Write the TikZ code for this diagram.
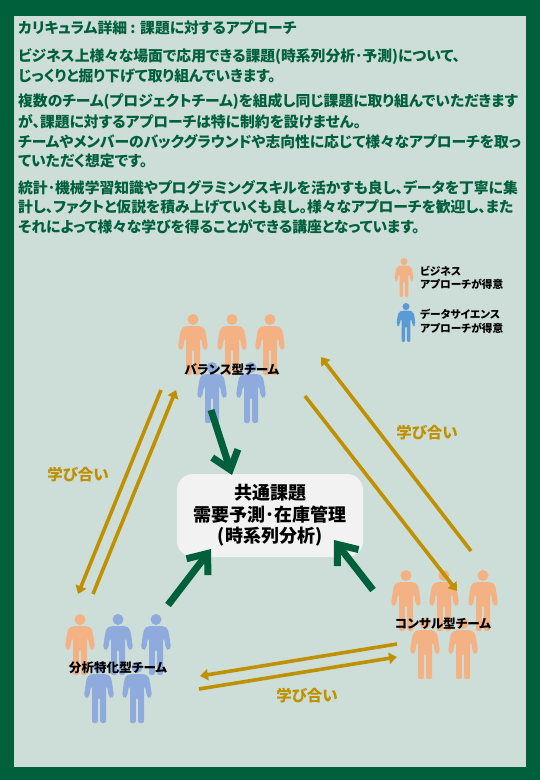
\documentclass[tikz,border=0pt]{standalone}
\usepackage{fontspec}
\setmainfont[RawFeature=+palt]{Noto Sans CJK JP}
\usetikzlibrary{arrows.meta}
\definecolor{frameG}{HTML}{00603C}
\definecolor{paleG}{HTML}{CDDED8}
\definecolor{gold}{HTML}{BF9000}
\definecolor{orangeP}{HTML}{F4B183}
\definecolor{blueP}{HTML}{8FAADC}
\definecolor{blueL}{HTML}{5B9BD5}
\definecolor{boxG}{HTML}{F2F2F2}
\newcommand{\personfig}[4]{%
 \begin{scope}[shift={(#1,#2)},scale=#3]
  \fill[#4] (0,5.5) circle (5.5);
  \fill[#4,rounded corners=2pt] (-7,12) -- (7,12) -- (11.5,14) -- (13,20) -- (15,34) -- (12.5,36.5) -- (10,35) -- (8,24) -- (7,24) -- (7,61) -- (1.2,61) -- (1.2,36) -- (-1.2,36) -- (-1.2,61) -- (-7,61) -- (-7,24) -- (-8,24) -- (-10,35) -- (-12.5,36.5) -- (-15,34) -- (-13,20) -- (-11.5,14) -- cycle;
 \end{scope}}
\tikzset{
 bodyline/.style={anchor=west,inner sep=0,font=\bfseries\fontsize{14.8}{14.8}\selectfont,text=frameG},
 teamlabel/.style={inner sep=0,font=\bfseries\fontsize{12.6}{12.6}\selectfont,text=black},
 legendlabel/.style={anchor=west,inner sep=0,font=\bfseries\fontsize{10.7}{10.7}\selectfont,text=black},
 learnlabel/.style={inner sep=0,font=\bfseries\fontsize{15.5}{15.5}\selectfont,text=gold},
 goldarrow/.style={draw=gold,line width=3.6pt,-{Triangle[length=8pt,width=11pt]}},
 greenarrow/.style={draw=frameG,line width=7pt,-{Straight Barb[length=17pt,width=27pt]}},
 commonbox/.style={fill=boxG,rounded corners=16pt,minimum width=186pt,minimum height=83pt,inner sep=0,align=center,text=black,font=\bfseries\fontsize{18}{21.5}\selectfont},
}
\begin{document}
\begin{tikzpicture}[x=1pt,y=-1pt]
\useasboundingbox (0,0) rectangle (540,780);
\fill[frameG] (0,0) rectangle (540,780);
\fill[paleG] (14,16) rectangle (526,767);
% text block
\node[bodyline] (t1) at (18,28) {カリキュラム詳細 : 課題に対するアプローチ};
\node[bodyline] (t2) at (18,57) {ビジネス上様々な場面で応用できる課題(時系列分析･予測)について、};
\node[bodyline] (t3) at (18,76) {じっくりと掘り下げて取り組んでいきます。};
\node[bodyline] (t4) at (18,102) {複数のチーム(プロジェクトチーム)を組成し同じ課題に取り組んでいただきます};
\node[bodyline] (t5) at (18,122) {が、課題に対するアプローチは特に制約を設けません。};
\node[bodyline] (t6) at (18,142) {チームやメンバーのバックグラウンドや志向性に応じて様々なアプローチを取っ};
\node[bodyline] (t7) at (18,161) {ていただく想定です。};
\node[bodyline] (t8) at (18,188) {統計･機械学習知識やプログラミングスキルを活かすも良し、データを丁寧に集};
\node[bodyline] (t9) at (18,207) {計し、ファクトと仮説を積み上げていくも良し。様々なアプローチを歓迎し、また};
\node[bodyline] (t10) at (18,227) {それによって様々な学びを得ることができる講座となっています。};
% people
\personfig{193}{314}{1}{orangeP}\personfig{232}{314}{1}{orangeP}\personfig{270}{314}{1}{orangeP}
\personfig{212}{362}{1}{blueP}\personfig{251}{362}{1}{blueP}
\personfig{80}{614}{1}{orangeP}\personfig{118}{614}{1}{blueP}\personfig{156}{614}{1}{blueP}
\personfig{99}{662}{1}{blueP}\personfig{137}{662}{1}{blueP}
\personfig{406}{570}{1}{orangeP}\personfig{444}{570}{1}{orangeP}\personfig{483}{570}{1}{orangeP}
\personfig{425}{618}{1}{orangeP}\personfig{463}{618}{1}{orangeP}
\personfig{404}{258}{0.64}{orangeP}
\personfig{406}{303}{0.64}{blueL}
% labels
\node[legendlabel] (l1) at (420,271) {ビジネス};
\node[legendlabel] (l2) at (420,284.5) {アプローチが得意};
\node[legendlabel] (l3) at (420,314) {データサイエンス};
\node[legendlabel] (l4) at (420,328.5) {アプローチが得意};
\node[teamlabel] (balance) at (232,370) {バランス型チーム};
\node[teamlabel] (analysis) at (118,668) {分析特化型チーム};
\node[teamlabel] (consul) at (443,624) {コンサル型チーム};
\node[commonbox] (common) at (270,515.5) {共通課題\\需要予測･在庫管理\\(時系列分析)};
\node[learnlabel] (m1) at (78,475) {学び合い};
\node[learnlabel] (m2) at (427,433) {学び合い};
\node[learnlabel] (m3) at (307,696) {学び合い};
% arrow ends
\coordinate (a1) at (161,390); \coordinate (a2) at (78,594);
\coordinate (b1) at (93,594); \coordinate (b2) at (176,390);
\coordinate (c1) at (471,551); \coordinate (c2) at (321,357);
\coordinate (d1) at (305,396); \coordinate (d2) at (457,591);
\coordinate (e1) at (397,644); \coordinate (e2) at (200,676);
\coordinate (f1) at (199,689); \coordinate (f2) at (397,657);
\coordinate (g1) at (211,410); \coordinate (g2) at (232,475);
\coordinate (h1) at (168,605); \coordinate (h2) at (211,549);
\coordinate (i1) at (373,590); \coordinate (i2) at (334,540);
\draw[goldarrow] (a1) -- (a2);
\draw[goldarrow] (b1) -- (b2);
\draw[goldarrow] (c1) -- (c2);
\draw[goldarrow] (d1) -- (d2);
\draw[goldarrow] (e1) -- (e2);
\draw[goldarrow] (f1) -- (f2);
\draw[greenarrow] (g1) -- (g2);
\draw[greenarrow] (h1) -- (h2);
\draw[greenarrow] (i1) -- (i2);
\end{tikzpicture}
\end{document}
